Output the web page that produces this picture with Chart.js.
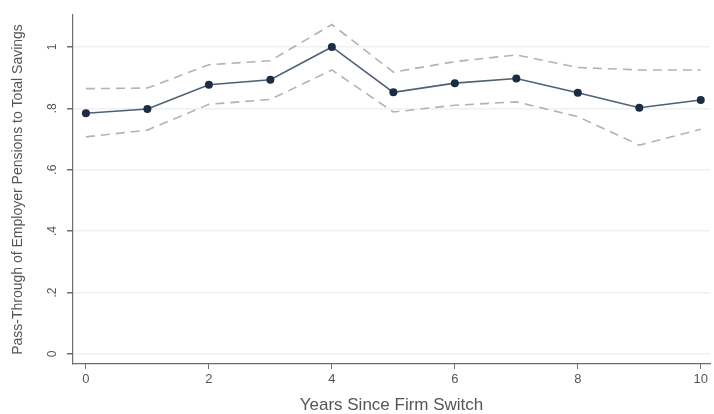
<!DOCTYPE html>
<html>
<head>
<meta charset="utf-8">
<script src="https://cdn.jsdelivr.net/npm/chart.js@4/dist/chart.umd.min.js"></script>
<style>
    html, body { margin: 0; padding: 0; background: #fff; }
    #wrap { width: 714px; height: 414px; }
</style>
</head>
<body>
<div id="wrap"><canvas id="passThrough"></canvas></div>
<script>
const years = [0, 1, 2, 3, 4, 5, 6, 7, 8, 9, 10];
const estimate = [0.784, 0.798, 0.877, 0.893, 1.000, 0.852, 0.882, 0.897, 0.851, 0.802, 0.827];
const upperCI = [0.864, 0.866, 0.942, 0.955, 1.073, 0.918, 0.952, 0.974, 0.933, 0.925, 0.925];
const lowerCI = [0.707, 0.729, 0.813, 0.829, 0.925, 0.788, 0.810, 0.821, 0.773, 0.680, 0.732];
const xTicks = [0, 2, 4, 6, 8, 10];
const yTicks = [0, 0.2, 0.4, 0.6, 0.8, 1];
const yTickLabels = ["0", ".2", ".4", ".6", ".8", "1"];

const textColor = "#555";
const axisColor = "#6d6d6d";

const toPoints = vals => years.map((x, i) => ({ x: x, y: vals[i] }));

// y tick labels are vertical in the original (Stata style), so draw them by hand
const verticalYLabels = {
    id: "verticalYLabels",
    afterDraw(chart) {
        const y = chart.scales.y;
        const ctx = chart.ctx;
        ctx.save();
        ctx.fillStyle = textColor;
        ctx.font = "12px 'Liberation Sans', Arial, sans-serif";
        ctx.textAlign = "center";
        ctx.textBaseline = "middle";
        yTicks.forEach((v, i) => {
            const py = y.getPixelForValue(v);
            ctx.save();
            ctx.translate(53, py);
            ctx.rotate(-Math.PI / 2);
            ctx.fillText(yTickLabels[i], 0, 0);
            ctx.restore();
        });
        ctx.restore();
    }
};

new Chart(document.getElementById("passThrough"), {
    type: "line",
    plugins: [verticalYLabels],
    data: {
        datasets: [
            {
                label: "Upper",
                data: toPoints(upperCI),
                borderColor: "#b3b3b3",
                borderWidth: 1.6,
                borderDash: [9, 6],
                pointRadius: 0,
                fill: false
            },
            {
                label: "Lower",
                data: toPoints(lowerCI),
                borderColor: "#b3b3b3",
                borderWidth: 1.6,
                borderDash: [9, 6],
                pointRadius: 0,
                fill: false
            },
            {
                label: "Estimate",
                data: toPoints(estimate),
                borderColor: "#4d6077",
                borderWidth: 1.6,
                pointRadius: 4,
                pointBackgroundColor: "#1c2c44",
                pointBorderColor: "#1c2c44",
                pointBorderWidth: 0,
                fill: false
            }
        ]
    },
    options: {
        responsive: true,
        maintainAspectRatio: false,
        animation: false,
        layout: {
            padding: { top: 15, right: 2, left: 0, bottom: 0 }
        },
        plugins: {
            legend: { display: false },
            tooltip: { enabled: false }
        },
        scales: {
            x: {
                type: "linear",
                min: -0.21,
                max: 10.15,
                afterBuildTicks: scale => {
                    scale.ticks = xTicks.map(v => ({ value: v }));
                },
                afterFit: scale => {
                    scale.height = 50;
                },
                border: { color: axisColor, width: 1.2 },
                grid: {
                    drawOnChartArea: false,
                    drawTicks: true,
                    tickLength: 5,
                    tickColor: axisColor
                },
                ticks: {
                    color: textColor,
                    padding: 3,
                    maxRotation: 0,
                    font: { family: "'Liberation Sans', Arial, sans-serif", size: 13 }
                },
                title: {
                    display: true,
                    text: "Years Since Firm Switch",
                    color: textColor,
                    padding: 0,
                    font: { family: "'Liberation Sans', Arial, sans-serif", size: 17, lineHeight: 1 }
                }
            },
            y: {
                type: "linear",
                min: -0.033,
                max: 1.104,
                afterBuildTicks: scale => {
                    scale.ticks = yTicks.map(v => ({ value: v }));
                },
                afterFit: scale => {
                    scale.width = 73;
                },
                border: { color: axisColor, width: 1.2 },
                grid: {
                    color: "#eef0f2",
                    lineWidth: 1.5,
                    drawTicks: true,
                    tickLength: 6,
                    tickColor: axisColor
                },
                ticks: { display: false },
                title: {
                    display: true,
                    text: "Pass-Through of Employer Pensions to Total Savings",
                    color: textColor,
                    padding: { top: 11, bottom: 0 },
                    font: { family: "'Liberation Sans', Arial, sans-serif", size: 14, lineHeight: 1 }
                }
            }
        }
    }
});
</script>
</body>
</html>
